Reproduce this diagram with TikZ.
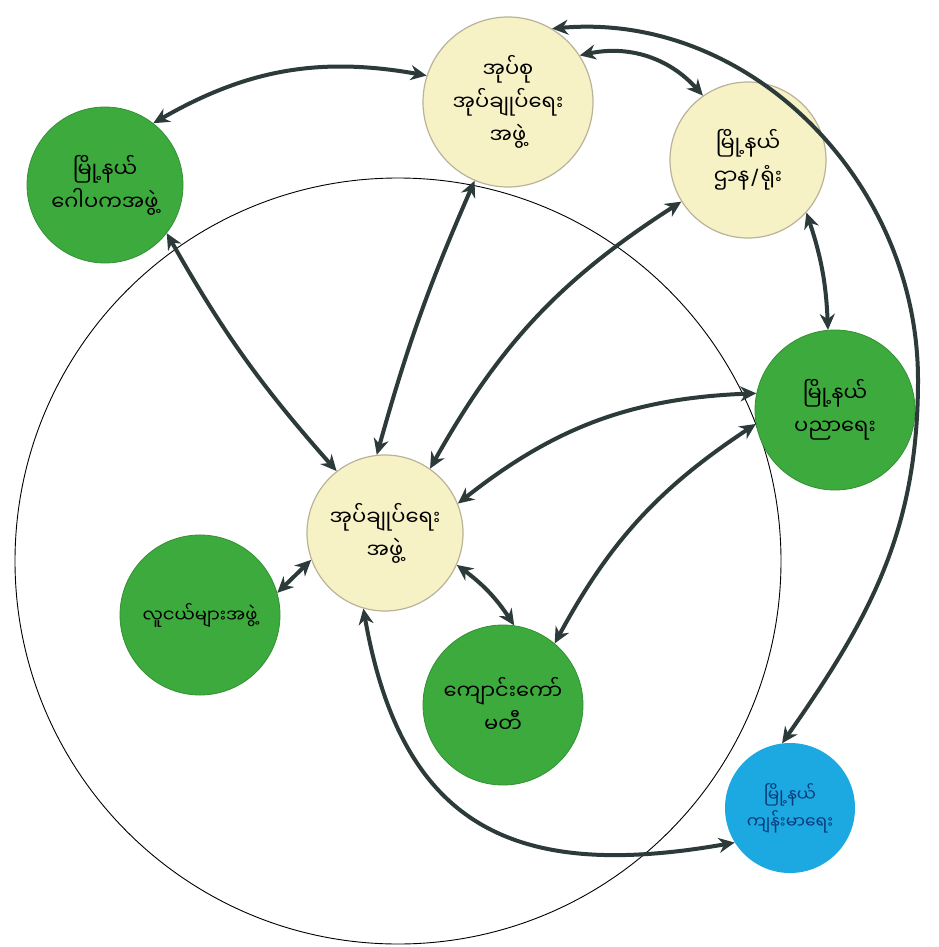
\documentclass[tikz,border=0pt]{standalone}
\usepackage{fontspec}
\newfontfamily\mya[Script=Myanmar]{Noto Sans Myanmar UI}
\newfontfamily\latn{DejaVu Sans}
\usetikzlibrary{arrows.meta}
\definecolor{pale}{HTML}{F7F1C6}
\definecolor{paleline}{HTML}{B9B39A}
\definecolor{leaf}{HTML}{3DAA3D}
\definecolor{sky}{HTML}{1CA9E2}
\definecolor{ink}{HTML}{2C3A3A}
\definecolor{bluetext}{HTML}{0A3A7A}
\begin{document}
\begin{tikzpicture}[x=1pt,y=1pt,
  bub/.style={circle, inner sep=0pt, align=center, text=black,
    font=\mya\fontsize{21}{33}\selectfont},
  yel/.style={bub, fill=pale, draw=paleline, line width=1.2pt},
  grn/.style={bub, fill=leaf, draw=leaf!85!black, line width=0.8pt},
  blu/.style={bub, fill=sky, text=bluetext, font=\mya\fontsize{17}{27}\selectfont},
  link/.style={ink, line width=4pt,
    {Stealth[length=16pt,width=15pt]}-{Stealth[length=16pt,width=15pt]}},
]
\useasboundingbox (0,0) rectangle (938,-947);
\fill[white] (0,0) rectangle (938,-947);
% big ring
\node[draw, circle, minimum size=766pt, line width=0.9pt, inner sep=0pt] (ring) at (398,-561) {};
% bubbles
\node[yel, minimum size=170pt] (ty) at (508,-102) {အုပ်စု\\အုပ်ချုပ်ရေး\\အဖွဲ့};
\node[grn, minimum size=156pt] (lg) at (105,-185) {မြို့နယ်\\ဂေါပကအဖွဲ့};
\node[yel, minimum size=156pt] (ry) at (748,-160) {မြို့နယ်\\ဌာန\kern2pt{\latn /}\kern2pt ရုံး};
\node[grn, minimum size=160pt] (rg) at (835,-410) {မြို့နယ်\\ပညာရေး};
\node[yel, minimum size=156pt] (c) at (385,-533) {အုပ်ချုပ်ရေး\\အဖွဲ့};
\node[grn, minimum size=160pt, font=\mya\fontsize{18}{28}\selectfont] (lig) at (200,-615) {လူငယ်များအဖွဲ့};
\node[grn, minimum size=160pt] (bg) at (503,-705) {ကျောင်းကော်\\မတီ};
\node[blu, minimum size=130pt] (bl) at (790,-808) {မြို့နယ်\\ကျန်းမာရေး};
% links
\draw[link] (ty.162) to[bend right=20] (lg.52);
\draw[link] (ty.33) to[bend left=30] (ry.125);
\draw[link] (ry.-42) to[bend left=8] (rg.95);
\draw[link] (lg.-38) to[bend right=6] (c.128);
\draw[link] (ty.-113) to[bend right=4] (c.96);
\draw[link] (ry.-148) to[bend right=14] (c.55);
\draw[link] (rg.168) to[bend right=18] (c.22);
\draw[link] (rg.190) to[bend right=14] (bg.50);
\draw[link] (c.200) -- (lig.16);
\draw[link] (c.-24) to[bend left=10] (bg.82);
\draw[link] (c.-106) to[out=-80,in=190,looseness=1.3] (bl.212);
\coordinate (via) at (918,-380);
\draw[link] (ty.59) to[out=5,in=90] (via) to[out=-90,in=55] (bl.97);
\end{tikzpicture}
\end{document}
